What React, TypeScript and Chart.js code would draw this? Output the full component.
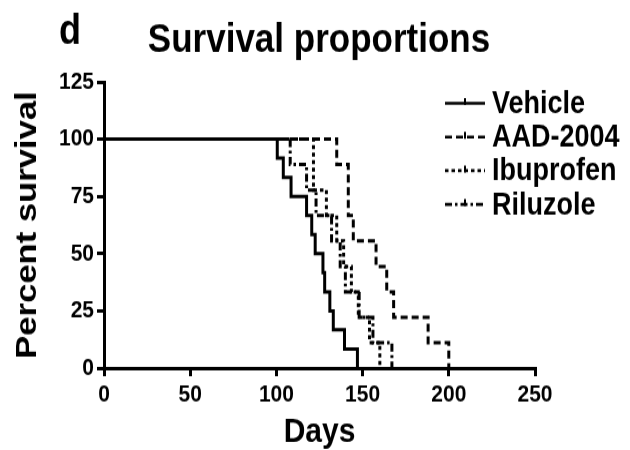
import React, { useEffect, useRef } from "react";
import { Chart, registerables } from "chart.js";

Chart.register(...registerables);

// Kaplan–Meier survival steps per treatment group (day of death, % surviving after it)
const seriesNames = ["Vehicle", "AAD-2004", "Ibuprofen", "Riluzole"];

const vehicleDays = [0, 100.5, 104, 108.5, 117.5, 120.5, 122.5, 127, 128, 131, 133, 139.5, 147];
const vehicleSurvival = [100, 91.7, 83.3, 75, 66.7, 58.3, 50, 41.7, 33.3, 25, 16.7, 8.3, 0];

const aadDays = [0, 135, 141.7, 144.6, 157.8, 164, 168, 188, 200];
const aadSurvival = [100, 88.9, 66.7, 55.6, 44.4, 33.3, 22.2, 11.1, 0];

const ibuprofenDays = [0, 121.5, 129, 135, 139, 143.5, 147.5, 154, 160];
const ibuprofenSurvival = [100, 77.8, 66.7, 55.6, 44.4, 33.3, 22.2, 11.1, 0];

const riluzoleDays = [0, 108, 117.5, 123, 132, 137, 140, 148, 156, 167];
const riluzoleSurvival = [100, 88.9, 77.8, 66.7, 55.6, 44.4, 33.3, 22.2, 11.1, 0];

const xTicks = [0, 50, 100, 150, 200, 250];
const yTicks = [0, 25, 50, 75, 100, 125];

const chartTitle = "Survival proportions";
const panelLetter = "d";

// Line patterns: solid, dashed, dotted, dash-dot
const dashPatterns: number[][] = [[], [7, 4], [3.5, 3], [7, 3, 2.5, 3]];

// Drawing surface is laid out at 630x390 and shown stretched to 630x450
const DRAW_W = 630;
const DRAW_H = 390;
const SHOW_H = 450;

const FONT = "'Liberation Sans', Arial, Helvetica, sans-serif";

const toPoints = (days: number[], surv: number[]) =>
  days.map((d, i) => ({ x: d, y: surv[i] }));

const panelExtras = {
  id: "panelExtras",
  afterDraw(chart: any) {
    const ctx: CanvasRenderingContext2D = chart.ctx;
    ctx.save();
    ctx.fillStyle = "#000";
    ctx.strokeStyle = "#000";

    // panel letter and heading
    ctx.textBaseline = "alphabetic";
    ctx.textAlign = "left";
    ctx.font = `bold 36px ${FONT}`;
    ctx.fillText(panelLetter, 59, 38);
    ctx.textAlign = "center";
    ctx.font = `bold 35px ${FONT}`;
    ctx.fillText(chartTitle, 319, 45);

    // legend with a small censor tick on each sample line
    const lineStart = 445;
    const lineEnd = 485;
    const firstY = 89.5;
    const rowGap = 29.2;
    ctx.textAlign = "left";
    chart.data.datasets.forEach((ds: any, i: number) => {
      const y = firstY + i * rowGap;
      ctx.setLineDash(ds.borderDash || []);
      ctx.lineWidth = 2.6;
      ctx.beginPath();
      ctx.moveTo(lineStart, y);
      ctx.lineTo(lineEnd, y);
      ctx.stroke();
      ctx.setLineDash([]);
      ctx.lineWidth = 2;
      ctx.beginPath();
      ctx.moveTo(465, y - 4.5);
      ctx.lineTo(465, y + 1.5);
      ctx.stroke();
      ctx.font = `bold 27px ${FONT}`;
      ctx.textBaseline = "middle";
      ctx.fillText(ds.label, 492, y + 1);
    });
    ctx.restore();
  },
};

export default function App() {
  const canvasRef = useRef<HTMLCanvasElement | null>(null);

  useEffect(() => {
    const canvas = canvasRef.current;
    if (!canvas) return;

    const groups = [
      toPoints(vehicleDays, vehicleSurvival),
      toPoints(aadDays, aadSurvival),
      toPoints(ibuprofenDays, ibuprofenSurvival),
      toPoints(riluzoleDays, riluzoleSurvival),
    ];

    const chart = new Chart(canvas, {
      type: "line",
      data: {
        datasets: groups.map((pts, i) => ({
          label: seriesNames[i],
          data: pts,
          stepped: true,
          borderColor: "#000",
          backgroundColor: "#000",
          borderWidth: 3,
          borderDash: dashPatterns[i],
          pointRadius: 0,
          fill: false,
        })),
      },
      options: {
        responsive: false,
        animation: false,
        devicePixelRatio: 1,
        layout: { padding: { left: 0, right: 95, top: 71, bottom: 0 } },
        plugins: {
          legend: { display: false },
          tooltip: { enabled: false },
          title: { display: false },
        },
        scales: {
          x: {
            type: "linear",
            min: 0,
            max: 250,
            afterBuildTicks: (s: any) => {
              s.ticks = xTicks.map((v) => ({ value: v }));
            },
            afterFit: (s: any) => {
              s.height = 71;
            },
            border: { display: true, color: "#000", width: 3 },
            grid: {
              display: true,
              drawOnChartArea: false,
              drawTicks: true,
              tickLength: 7,
              lineWidth: 3,
              color: "#000",
            },
            ticks: {
              color: "#000",
              font: { family: FONT, size: 21, weight: "bold" },
              padding: 4,
              maxRotation: 0,
              autoSkip: false,
            },
            title: {
              display: true,
              text: "Days",
              color: "#000",
              font: { family: FONT, size: 30, weight: "bold", lineHeight: 1 },
              padding: 0,
            },
          },
          y: {
            type: "linear",
            min: 0,
            max: 125,
            afterBuildTicks: (s: any) => {
              s.ticks = yTicks.map((v) => ({ value: v }));
            },
            afterFit: (s: any) => {
              s.width = 104;
            },
            border: { display: true, color: "#000", width: 3 },
            grid: {
              display: true,
              drawOnChartArea: false,
              drawTicks: true,
              tickLength: 7,
              lineWidth: 3,
              color: "#000",
            },
            ticks: {
              color: "#000",
              font: { family: FONT, size: 21, weight: "bold" },
              padding: 3,
              autoSkip: false,
            },
            title: {
              display: true,
              text: "Percent survival",
              color: "#000",
              font: { family: FONT, size: 30, weight: "bold", lineHeight: 1.2 },
              padding: { top: 10, bottom: 0 },
            },
          },
        },
      },
      plugins: [panelExtras],
    } as any);

    return () => chart.destroy();
  }, []);

  return (
    <div
      style={{
        position: "fixed",
        left: 0,
        top: 0,
        width: DRAW_W,
        height: SHOW_H,
        background: "#fff",
      }}
    >
      <canvas
        ref={canvasRef}
        width={DRAW_W}
        height={DRAW_H}
        style={{ display: "block", width: `${DRAW_W}px`, height: `${SHOW_H}px` }}
      />
    </div>
  );
}
